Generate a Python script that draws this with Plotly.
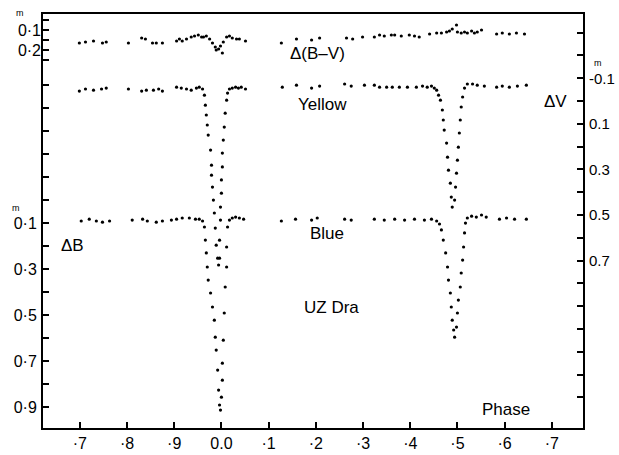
import plotly.graph_objects as go

# ---------------- data (phase, magnitudes) ----------------
# phases < 0 belong to the previous cycle (shown as .7 .8 .9)
bv_phase = [-0.301, -0.288, -0.271, -0.252, -0.244, -0.197, -0.169, -0.161, -0.146, -0.138,
            -0.125, -0.095, -0.089, -0.083, -0.074, -0.064, -0.057, -0.049, -0.042, -0.038,
            -0.032, -0.025, -0.019, -0.013, -0.011, -0.006, -0.002, 0.002, 0.004, 0.011,
            0.017, 0.023, 0.032, 0.038, 0.051,
            0.127, 0.159, 0.191, 0.208, 0.265, 0.278, 0.299, 0.324, 0.335, 0.345,
            0.360, 0.367, 0.381, 0.398, 0.409, 0.419, 0.441, 0.456, 0.466, 0.477,
            0.483, 0.489, 0.498, 0.500, 0.508, 0.515, 0.521, 0.530, 0.536, 0.542,
            0.551, 0.583, 0.595, 0.610, 0.625, 0.642]
bv_mag = [0.165, 0.160, 0.155, 0.165, 0.160, 0.165, 0.140, 0.145, 0.165, 0.165,
          0.165, 0.155, 0.145, 0.155, 0.145, 0.135, 0.130, 0.125, 0.135, 0.135,
          0.130, 0.145, 0.165, 0.185, 0.200, 0.195, 0.180, 0.215, 0.160, 0.135,
          0.130, 0.140, 0.145, 0.145, 0.155,
          0.165, 0.145, 0.150, 0.140, 0.140, 0.145, 0.135, 0.135, 0.125, 0.130,
          0.125, 0.125, 0.130, 0.125, 0.130, 0.135, 0.120, 0.115, 0.115, 0.110,
          0.105, 0.095, 0.075, 0.110, 0.115, 0.110, 0.115, 0.105, 0.115, 0.110,
          0.100, 0.120, 0.115, 0.120, 0.115, 0.120]

yellow_phase = [-0.301, -0.288, -0.271, -0.254, -0.244, -0.197, -0.169, -0.159, -0.144, -0.133,
                -0.125, -0.095, -0.085, -0.074, -0.064, -0.053, -0.047, -0.040, -0.036, -0.034,
                -0.032, -0.030, -0.028, -0.023, -0.021, -0.021, -0.019, -0.017, -0.015, -0.013,
                -0.011, -0.008, -0.006, -0.004, -0.004, -0.002, -0.002, 0.000, 0.000, 0.002,
                0.002, 0.004, 0.006, 0.008, 0.011, 0.013, 0.017, 0.023, 0.030, 0.036,
                0.042, 0.051,
                0.129, 0.159, 0.191, 0.208, 0.261, 0.275, 0.303, 0.324, 0.335, 0.350,
                0.362, 0.377, 0.394, 0.413, 0.426, 0.436, 0.445, 0.451, 0.456, 0.460,
                0.464, 0.468, 0.470, 0.472, 0.477, 0.479, 0.481, 0.485, 0.487, 0.489,
                0.494, 0.496, 0.498, 0.500, 0.502, 0.504, 0.506, 0.508, 0.511, 0.515,
                0.521, 0.532, 0.542, 0.557, 0.583, 0.595, 0.610, 0.627, 0.646]
yellow_mag = [-0.044, -0.053, -0.048, -0.053, -0.057, -0.053, -0.044, -0.048, -0.048, -0.053,
              -0.044, -0.061, -0.057, -0.053, -0.048, -0.057, -0.061, -0.053, -0.026, 0.018,
              0.061, 0.105, 0.149, 0.215, 0.281, 0.325, 0.377, 0.434, 0.491, 0.557,
              0.632, 0.689, 0.719, 0.689, 0.610, 0.522, 0.465, 0.404, 0.346, 0.289,
              0.228, 0.171, 0.114, 0.053, -0.004, -0.035, -0.053, -0.057, -0.061, -0.057,
              -0.061, -0.053,
              -0.061, -0.070, -0.057, -0.066, -0.075, -0.066, -0.070, -0.070, -0.061, -0.061,
              -0.061, -0.061, -0.061, -0.061, -0.066, -0.061, -0.066, -0.057, -0.048, -0.026,
              -0.004, 0.039, 0.083, 0.127, 0.184, 0.246, 0.303, 0.360, 0.421, 0.465,
              0.434, 0.377, 0.316, 0.259, 0.202, 0.140, 0.083, 0.026, -0.018, -0.057,
              -0.075, -0.075, -0.070, -0.066, -0.061, -0.066, -0.061, -0.066, -0.070]

blue_phase = [-0.297, -0.280, -0.265, -0.252, -0.237, -0.189, -0.167, -0.157, -0.138, -0.125,
              -0.106, -0.095, -0.083, -0.068, -0.055, -0.047, -0.040, -0.036, -0.034, -0.032,
              -0.030, -0.028, -0.023, -0.019, -0.015, -0.013, -0.011, -0.008, -0.006, -0.004,
              -0.002, 0.000, 0.002, 0.002, 0.004, 0.006, 0.008, 0.011, 0.011, 0.013,
              0.017, 0.023, 0.030, 0.038, 0.047,
              0.127, 0.157, 0.191, 0.203, 0.261, 0.275, 0.324, 0.345, 0.367, 0.388,
              0.409, 0.430, 0.445, 0.456, 0.462, 0.466, 0.470, 0.475, 0.479, 0.481,
              0.485, 0.487, 0.489, 0.492, 0.494, 0.498, 0.500, 0.502, 0.506, 0.508,
              0.511, 0.513, 0.515, 0.517, 0.521, 0.530, 0.540, 0.551, 0.561, 0.589,
              0.604, 0.621, 0.646]
blue_mag = [0.091, 0.083, 0.091, 0.096, 0.091, 0.087, 0.083, 0.091, 0.096, 0.091,
            0.087, 0.083, 0.078, 0.078, 0.083, 0.083, 0.091, 0.117, 0.174, 0.230,
            0.291, 0.348, 0.404, 0.465, 0.522, 0.596, 0.652, 0.739, 0.826, 0.891,
            0.913, 0.857, 0.783, 0.709, 0.609, 0.491, 0.378, 0.291, 0.204, 0.117,
            0.087, 0.078, 0.074, 0.078, 0.083,
            0.091, 0.083, 0.087, 0.078, 0.083, 0.087, 0.083, 0.087, 0.083, 0.087,
            0.083, 0.087, 0.083, 0.091, 0.104, 0.130, 0.174, 0.230, 0.291, 0.348,
            0.404, 0.465, 0.522, 0.565, 0.596, 0.552, 0.491, 0.435, 0.378, 0.317,
            0.261, 0.204, 0.143, 0.100, 0.078, 0.070, 0.074, 0.065, 0.074, 0.083,
            0.078, 0.083, 0.083]

x_tickvals = [-0.3, -0.2, -0.1, 0.0, 0.1, 0.2, 0.3, 0.4, 0.5, 0.6, 0.7]
x_ticktext = ["·7", "·8", "·9", "0.0", "·1", "·2", "·3", "·4", "·5", "·6", "·7"]
b_tickvals = [-0.5, -0.4, -0.3, -0.2, -0.1, 0.0, 0.1, 0.2, 0.3, 0.4, 0.5, 0.6, 0.7, 0.8, 0.9]
b_ticktext = ["", "", "", "", "", "", "0·1", "", "0·3", "", "0·5", "", "0·7", "", "0·9"]
bv_tickvals = [0.05, 0.1, 0.15, 0.2, 0.25]
bv_ticktext = ["", "0·1", "", "0·2", ""]
v_tickvals = [-0.3, -0.2, -0.1, 0.0, 0.1, 0.2, 0.3, 0.4, 0.5, 0.6, 0.7, 0.8, 0.9, 1.0, 1.1, 1.2, 1.3]
v_ticktext = ["", "", "-0.1", "", "0.1", "", "0.3", "", "0.5", "", "0.7", "", "", "", "", "", ""]

# ---------------- figure ----------------
W, H = 619, 455
ML, MR, MT, MB = 43, 36, 14, 27
FONT = "Liberation Sans, Arial, sans-serif"

def px(x, y):
    return (x - ML) / (W - ML - MR), (H - MB - y) / (H - MT - MB)

marker = dict(color="black", size=3.2, symbol="circle")
fig = go.Figure()
fig.add_trace(go.Scatter(x=bv_phase, y=bv_mag, mode="markers", marker=marker,
                         yaxis="y3", name="Δ(B–V)"))
fig.add_trace(go.Scatter(x=yellow_phase, y=yellow_mag, mode="markers", marker=marker,
                         yaxis="y2", name="Yellow"))
fig.add_trace(go.Scatter(x=blue_phase, y=blue_mag, mode="markers", marker=marker,
                         yaxis="y", name="Blue"))

axis_common = dict(showgrid=False, zeroline=False, ticks="inside", ticklen=6,
                   tickwidth=2, tickcolor="black", automargin=False)

fig.update_layout(
    width=W, height=H, autosize=False,
    margin=dict(l=ML, r=MR, t=MT, b=MB, pad=0),
    paper_bgcolor="white", plot_bgcolor="white",
    showlegend=False,
    font=dict(family=FONT, color="black", size=16),
    xaxis=dict(range=[-0.378, 0.766], tickvals=x_tickvals, ticktext=x_ticktext,
               showline=True, linecolor="black", linewidth=2, mirror=True,
               tickfont=dict(size=16), **axis_common),
    yaxis=dict(range=[0.991, -0.809], tickvals=b_tickvals, ticktext=b_ticktext,
               showline=True, linecolor="black", linewidth=2, side="left",
               tickfont=dict(size=16), ticklabelstandoff=1, **axis_common),
    yaxis3=dict(range=[2.09, 0.02], tickvals=bv_tickvals, ticktext=bv_ticktext,
                overlaying="y", side="left", anchor="x", showline=False,
                tickfont=dict(size=16), ticklabelstandoff=1, **axis_common),
    yaxis2=dict(range=[1.434, -0.382], tickvals=v_tickvals, ticktext=v_ticktext,
                overlaying="y", side="right", anchor="x", showline=True,
                linecolor="black", linewidth=2,
                tickfont=dict(size=15), ticklabelstandoff=1, **axis_common),
)

labels = [
    ("Δ(B–V)", 317, 54, 17),
    ("Yellow", 322, 105, 17),
    ("Blue", 327, 234, 17),
    ("UZ Dra", 331, 307, 17),
    ("Phase", 506, 409, 17),
    ("ΔB", 72, 245, 17),
    ("ΔV", 555, 101, 17),
    ("m", 20, 13, 9),
    ("m", 16, 208, 9),
    ("m", 598, 63, 9),
]
for text, x, y, size in labels:
    xp, yp = px(x, y)
    fig.add_annotation(text=text, x=xp, y=yp, xref="paper", yref="paper",
                       showarrow=False, xanchor="center", yanchor="middle",
                       font=dict(size=size, family=FONT, color="black"))

# remove the default page margin so the figure sits at the window's top-left
fig.write_html("out.html", config={"displayModeBar": False},
               post_script="document.body.style.margin='0';document.body.style.overflow='hidden';")
